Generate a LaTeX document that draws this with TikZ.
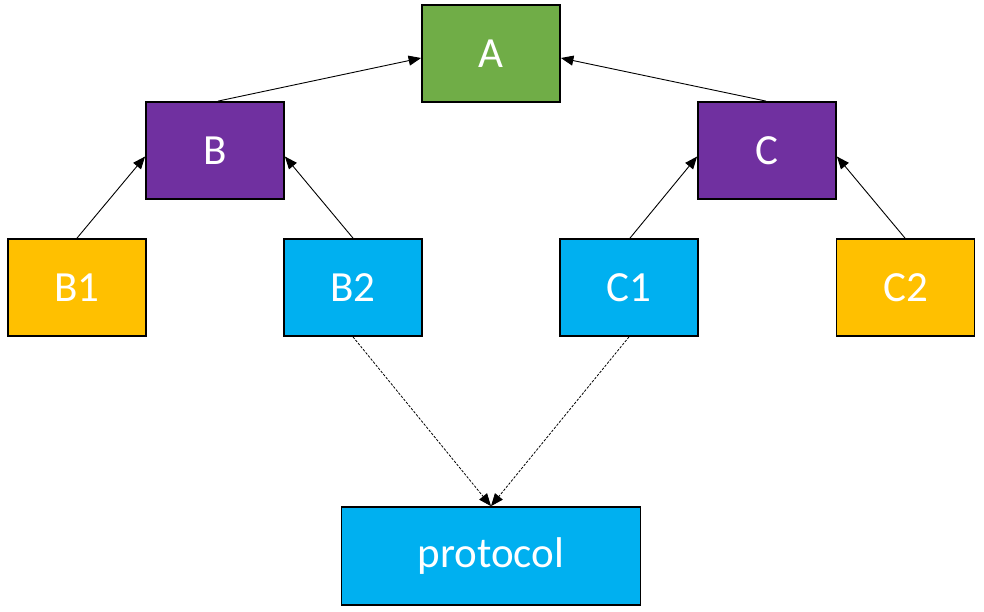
\documentclass[tikz,border=0pt]{standalone}
\usepackage{fontspec}
\setmainfont{Carlito}
\usetikzlibrary{arrows.meta}
\definecolor{cgreen}{HTML}{70AD47}
\definecolor{cpurple}{HTML}{7030A0}
\definecolor{cyellow}{HTML}{FFC000}
\definecolor{cblue}{HTML}{00B0F0}
\begin{document}
\begin{tikzpicture}[x=1pt,y=-1pt,
  box/.style={draw=black,line width=1.8pt,minimum width=138pt,minimum height=97pt,
    inner sep=0pt,text=white,font=\fontsize{43}{50}\selectfont},
  arr/.style={-{Triangle[length=12.5pt,width=10pt]},line width=0.9pt,black},
  darr/.style={-{Triangle[length=12.5pt,width=10pt]},line width=0.8pt,black,dash pattern=on 2.5pt off 1.5pt}]
\useasboundingbox (0,0) rectangle (984,612);
\fill[white] (0,0) rectangle (984,612);
\node[box,fill=cgreen] (A) at (491,53.5) {A};
\node[box,fill=cpurple] (B) at (215,150.5) {B};
\node[box,fill=cpurple] (C) at (767,150.5) {C};
\node[box,fill=cyellow] (B1) at (77,287.5) {B1};
\node[box,fill=cblue] (B2) at (353,287.5) {B2};
\node[box,fill=cblue] (C1) at (629,287.5) {C1};
\node[box,fill=cyellow] (C2) at (905.5,287.5) {C2};
\node[box,fill=cblue,minimum width=299pt,minimum height=98pt] (P) at (491,556) {protocol};
\draw[arr] ([xshift=3pt]B.north) -- ([yshift=-4.5pt]A.west);
\draw[arr] ([xshift=-1pt]C.north) -- ([yshift=-4.5pt]A.east);
\draw[arr] (B1.north) -- ([yshift=-6pt]B.west);
\draw[arr] (B2.north) -- ([yshift=-6pt]B.east);
\draw[arr] ([xshift=1pt]C1.north) -- ([yshift=-6pt]C.west);
\draw[arr] ([xshift=-0.5pt]C2.north) -- ([yshift=-6pt]C.east);
\draw[darr] (B2.south) -- (P.north);
\draw[darr] (C1.south) -- (P.north);
\end{tikzpicture}
\end{document}
